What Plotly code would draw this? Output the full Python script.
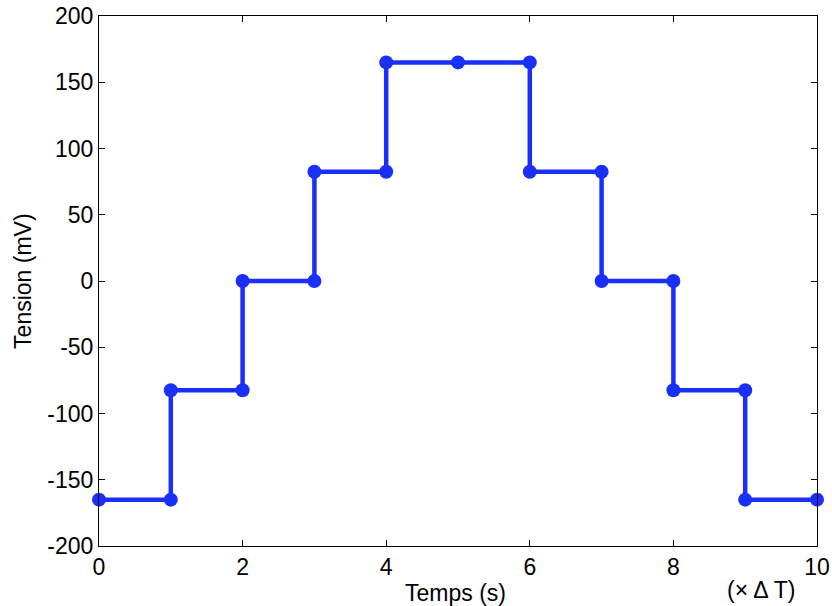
import plotly.graph_objects as go

# Step signal (time in units of delta T, tension in mV)
temps = [0, 1, 1, 2, 2, 3, 3, 4, 4, 5, 6, 6, 7, 7, 8, 8, 9, 9, 10]
tension = [-165, -165, -82.5, -82.5, 0, 0, 82.5, 82.5, 165, 165,
           165, 82.5, 82.5, 0, 0, -82.5, -82.5, -165, -165]

x_ticks = [0, 2, 4, 6, 8, 10]
y_ticks = [-200, -150, -100, -50, 0, 50, 100, 150, 200]
# plain hyphen for negatives, like the original figure
y_labels = [str(v) for v in y_ticks]

BLUE = '#1a30f8'
FONT = 'Liberation Sans, Arial, sans-serif'
FONT_SIZE = 23

fig = go.Figure()
fig.add_trace(go.Scatter(
    x=temps,
    y=tension,
    mode='lines+markers',
    line=dict(color=BLUE, width=4.5),
    marker=dict(color=BLUE, size=14),
    showlegend=False,
    cliponaxis=False
))

axis_common = dict(
    showgrid=False,
    zeroline=False,
    showline=True,
    linecolor='black',
    linewidth=1,
    mirror='ticks',
    ticks='inside',
    ticklen=6,
    tickcolor='black',
    automargin=False,
    tickfont=dict(family=FONT, size=FONT_SIZE, color='black'),
)

# plot area spans x 99..817 and y 16..546 in the page
fig.update_layout(
    width=832,
    height=606,
    margin=dict(l=99, r=15, t=16, b=60),
    plot_bgcolor='white',
    paper_bgcolor='white',
    font=dict(family=FONT, size=FONT_SIZE, color='black'),
    hovermode=False,
    xaxis=dict(range=[0, 10], tickvals=x_ticks, **axis_common),
    yaxis=dict(range=[-200, 200], tickvals=y_ticks, ticktext=y_labels,
               **axis_common),
    annotations=[
        dict(text='Temps (s)', xref='paper', yref='paper',
             x=0.497, y=-0.089, xanchor='center', yanchor='middle',
             showarrow=False),
        dict(text='Tension (mV)', xref='paper', yref='paper',
             x=-0.106, y=0.5, xanchor='center', yanchor='middle',
             textangle=-90, showarrow=False),
        dict(text='(× Δ T)', xref='paper', yref='paper',
             x=0.922, y=-0.083, xanchor='center', yanchor='middle',
             showarrow=False),
    ]
)

# the page body has a default 8px margin; drop it so the figure sits at 0,0
fig.write_html("out.html", config={'displayModeBar': False},
               post_script="document.body.style.margin = '0';")
